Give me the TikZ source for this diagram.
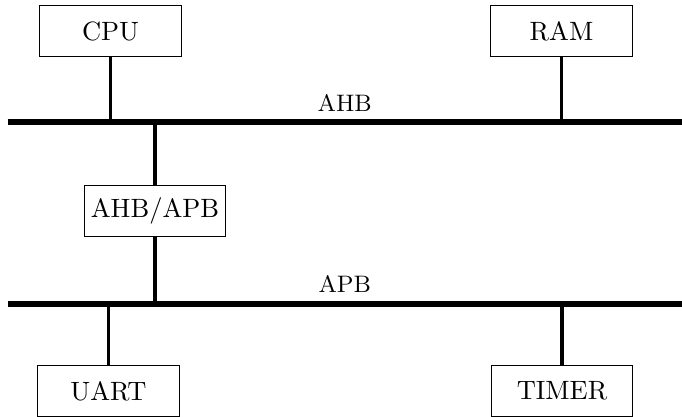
\documentclass[tikz,border=0pt]{standalone}
\usetikzlibrary{calc}
\tikzset{
  unit/.style={draw=black, line width=0.4pt, minimum width=53.6pt, minimum height=19.6pt, inner sep=0pt, font=\normalsize},
  busline/.style={line width=2.2pt},
  tap/.style={line width=1.2pt},
  buslabel/.style={anchor=base, font=\small, inner sep=0pt}
}
\begin{document}
\begin{tikzpicture}[x=0.3777pt, y=-0.3777pt]
  \useasboundingbox (0,0) rectangle (682,417);

  % bus end points
  \coordinate (ahbL) at (7.5,122);
  \coordinate (ahbR) at (682,122);
  \coordinate (apbL) at (7.5,303.7);
  \coordinate (apbR) at (682,303.7);

  % masters, memory, bridge and peripherals
  \node[unit] (cpu) at (110.5,31) {CPU};
  \node[unit] (ram) at (561.5,31) {RAM};
  \node[unit] (bridge) at (155,211) {AHB/APB};
  \node[unit] (uart) at (108.5,391) {UART};
  \node[unit] (timer) at (562,391) {TIMER};

  % the two buses
  \draw[busline] (ahbL) -- (ahbR);
  \draw[busline] (apbL) -- (apbR);
  \node[buslabel] (ahblbl) at (344.75,111.3) {AHB};
  \node[buslabel] (apblbl) at (344.75,293) {APB};

  % taps onto the buses
  \draw[tap] (cpu.south) -- (cpu.south |- ahbL);
  \draw[tap] (ram.south) -- (ram.south |- ahbL);
  \draw[tap] (bridge.north) -- (bridge.north |- ahbL);
  \draw[tap] (bridge.south) -- (bridge.south |- apbL);
  \draw[tap] (uart.north) -- (uart.north |- apbL);
  \draw[tap] (timer.north) -- (timer.north |- apbL);
\end{tikzpicture}
\end{document}
